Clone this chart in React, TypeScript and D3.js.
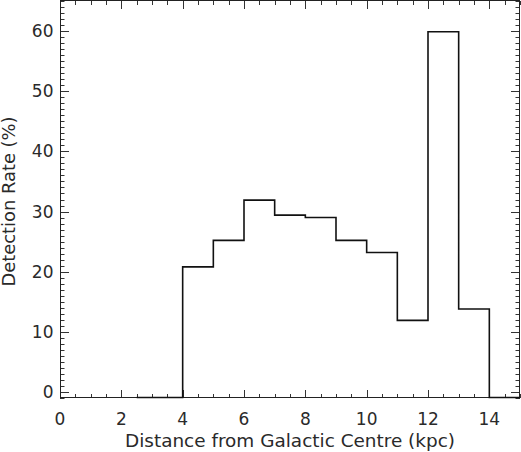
import React from "react"
import * as d3 from "d3"

// bin edges (kpc) and detection rate (%) per bin
const binEdges = [2.5, 4, 5, 6, 7, 8, 9, 10, 11, 12, 13, 14, 15]
const rates = [-1, 20.8, 25.2, 31.9, 29.4, 29.0, 25.2, 23.2, 11.9, 59.9, 13.8, -1]
const xTickLabels = [0, 2, 4, 6, 8, 10, 12, 14]
const yTickLabels = [0, 10, 20, 30, 40, 50, 60]

const W = 521, H = 452
const margin = { top: 1, right: 1, bottom: 54, left: 60 }
const font = "'DejaVu Sans', sans-serif"

export default function App() {
  const x = d3.scaleLinear().domain([0, 15]).range([margin.left, W - margin.right])
  const y = d3.scaleLinear().domain([-1, 65]).range([H - margin.bottom, margin.top])
  const [x0, x1] = x.range()
  const [yb, yt] = y.range()

  const pts: [number, number][] = rates.map((r, i) => [binEdges[i], r])
  pts.push([binEdges[binEdges.length - 1], rates[rates.length - 1]])
  const line = d3.line<[number, number]>()
    .x(d => x(d[0]))
    .y(d => Math.min(yb - 0.5, y(d[1])))
    .curve(d3.curveStepAfter)

  const xMinor = d3.range(0, 15.01, 0.5)
  const yMinor = d3.range(-1, 65.01, 1)

  return (
    <svg width={W} height={H} style={{ position: "absolute", left: 0, top: 0, background: "#fff" }}>
      <g stroke="#333" strokeWidth={1}>
        {xMinor.map(v => {
          const len = Math.abs(v % 2) < 1e-6 ? 8 : 4
          const px = Math.round(x(v)) + 0.5
          return (
            <g key={"x" + v}>
              <line x1={px} x2={px} y1={yb} y2={yb - len} />
              <line x1={px} x2={px} y1={yt} y2={yt + len} />
            </g>
          )
        })}
        {yMinor.map(v => {
          const len = v % 10 === 0 ? 9 : 4.5
          const py = Math.round(y(v)) + 0.5
          return (
            <g key={"y" + v}>
              <line x1={x0} x2={x0 + len} y1={py} y2={py} />
              <line x1={x1} x2={x1 - len} y1={py} y2={py} />
            </g>
          )
        })}
      </g>
      <rect x={x0 + 0.5} y={yt - 0.5} width={x1 - x0 - 1} height={yb - yt} fill="none" stroke="#222" strokeWidth={1} />
      <path d={line(pts) ?? ""} fill="none" stroke="#111" strokeWidth={1.6} />
      <g fontFamily={font} fontSize={17} fill="#2a2a2a">
        {xTickLabels.map(v => (
          <text key={"xl" + v} x={x(v)} y={425} textAnchor="middle">{v}</text>
        ))}
        {yTickLabels.map(v => (
          <text key={"yl" + v} x={53.5} y={y(v)} dy="0.36em" textAnchor="end">{v}</text>
        ))}
        <text x={(x0 + x1) / 2} y={447} textAnchor="middle" textLength={330} lengthAdjust="spacingAndGlyphs">
          Distance from Galactic Centre (kpc)
        </text>
        <text transform={`translate(15,${(yt + yb) / 2 + 2}) rotate(-90)`} textAnchor="middle" textLength={170} lengthAdjust="spacingAndGlyphs">
          Detection Rate (%)
        </text>
      </g>
    </svg>
  )
}
